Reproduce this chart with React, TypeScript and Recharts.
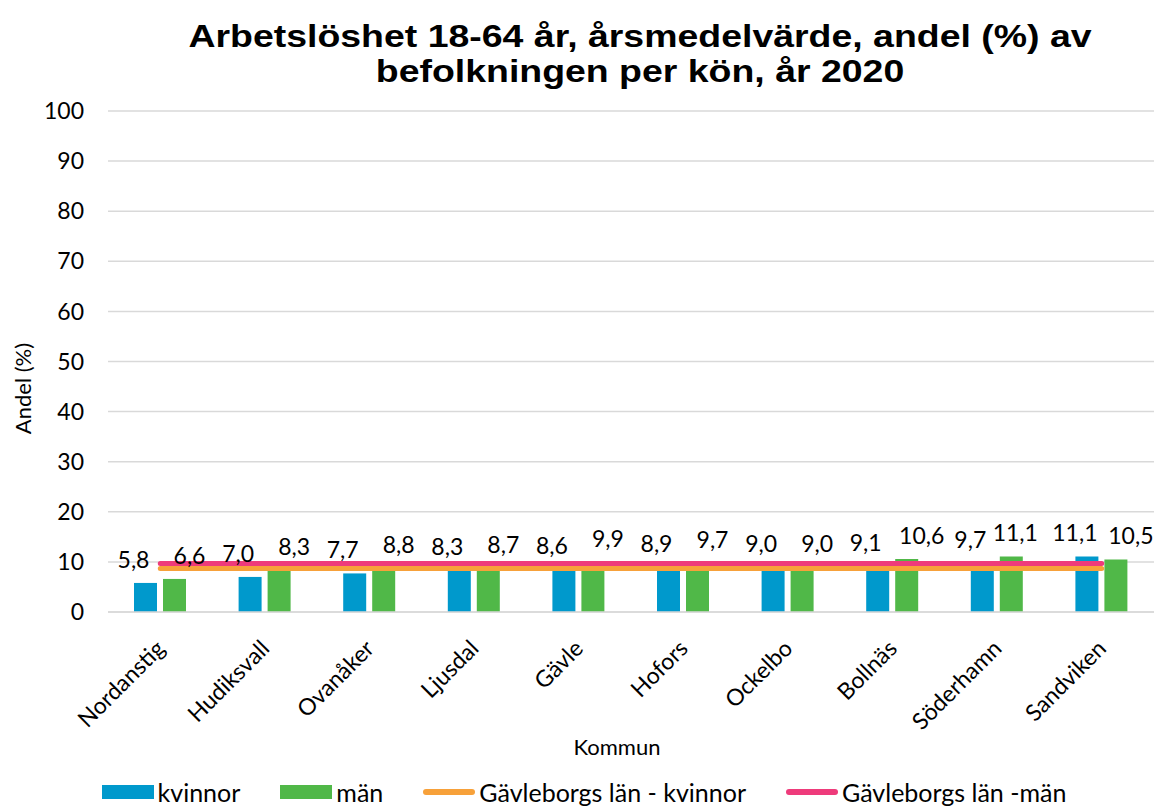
import React from 'react';
import { ComposedChart, Bar, Line, XAxis, YAxis, CartesianGrid, LabelList, Label } from 'recharts';

const categories = ['Nordanstig', 'Hudiksvall', 'Ovanåker', 'Ljusdal', 'Gävle', 'Hofors', 'Ockelbo', 'Bollnäs', 'Söderhamn', 'Sandviken'];
const kvinnor = [5.8, 7.0, 7.7, 8.3, 8.6, 8.9, 9.0, 9.1, 9.7, 11.1];
const man = [6.6, 8.3, 8.8, 8.7, 9.9, 9.7, 9.0, 10.6, 11.1, 10.5];
const lanKvinnor = [8.7, 8.7, 8.7, 8.7, 8.7, 8.7, 8.7, 8.7, 8.7, 8.7];
const lanMan = [9.7, 9.7, 9.7, 9.7, 9.7, 9.7, 9.7, 9.7, 9.7, 9.7];
const yTicks = [0, 10, 20, 30, 40, 50, 60, 70, 80, 90, 100];

const titleLines = ['Arbetslöshet 18-64 år, årsmedelvärde, andel (%) av', 'befolkningen per kön, år 2020'];

const COLORS = { kvinnor: '#0099CC', man: '#50B848', lanK: '#F7A13A', lanM: '#EE3B7B' };
const FONT = 'Lato, "Open Sans", sans-serif';

// label nudges to avoid overlapping labels (style, not data)
const manLabelNudge: Record<string, number> = { 'Söderhamn': -11 };

const data = categories.map((c, i) => ({
  name: c,
  kvinnor: kvinnor[i],
  man: man[i],
  lanKvinnor: lanKvinnor[i],
  lanMan: lanMan[i],
}));

const fmt = (v: number) => v.toFixed(1).replace('.', ',');

const makeLabel = (dx: number, nudge?: Record<string, number>) => (props: any) => {
  const { x, y, width, value, index } = props;
  const extra = nudge ? nudge[categories[index]] || 0 : 0;
  return (
    <text x={x + width / 2 + dx + extra} y={y - 15} textAnchor="middle" fontSize={23} fontFamily={FONT} fill="#000">
      {fmt(value)}
    </text>
  );
};

const XTick = (props: any) => {
  const { x, y, payload } = props;
  const ax = x + 6;
  const ay = y + 30;
  return (
    <text x={ax} y={ay} transform={`rotate(-45, ${ax}, ${ay})`} textAnchor="end" fontSize={23} fontFamily={FONT} fill="#000">
      {payload.value}
    </text>
  );
};

const legendItems = [
  { label: 'kvinnor', color: COLORS.kvinnor, type: 'rect' },
  { label: 'män', color: COLORS.man, type: 'rect' },
  { label: 'Gävleborgs län - kvinnor', color: COLORS.lanK, type: 'line' },
  { label: 'Gävleborgs län -män', color: COLORS.lanM, type: 'line' },
];

export default function App() {
  return (
    <div style={{ position: 'absolute', left: 0, top: 0, width: 1156, height: 807, background: '#fff', fontFamily: FONT, overflow: 'hidden' }}>
      <div style={{ position: 'absolute', left: 0, top: 19, width: 1280, textAlign: 'center', fontFamily: '"Liberation Sans", Arial, sans-serif', fontWeight: 'bold', fontSize: 32, lineHeight: '35px', color: '#000' }}>
        {titleLines.map((t) => (
          <div key={t} style={{ transform: 'scaleX(1.17)', transformOrigin: '640px 0' }}>{t}</div>
        ))}
      </div>
      <ComposedChart
        width={1156}
        height={807}
        data={data}
        margin={{ top: 111, right: 2, left: 0, bottom: 48 }}
        barSize={23}
        barGap={6}
      >
        <CartesianGrid vertical={false} stroke="#D9D9D9" strokeWidth={1.5} />
        <XAxis
          dataKey="name"
          height={147}
          axisLine={{ stroke: '#D9D9D9', strokeWidth: 1.5 }}
          tickLine={false}
          interval={0}
          tick={<XTick />}
        >
          <Label
            content={(p: any) => {
              const vb = p.viewBox;
              const cx = vb.x + vb.width / 2 - 14;
              const cy = vb.y + vb.height - 4;
              return (
                <text x={cx} y={cy} textAnchor="middle" fontSize={22} fontFamily={FONT} fill="#000">
                  Kommun
                </text>
              );
            }}
          />
        </XAxis>
        <YAxis
          width={108}
          domain={[0, 100]}
          ticks={yTicks}
          interval={0}
          axisLine={false}
          tickLine={false}
          tickSize={0}
          tickMargin={24}
          tick={{ fontSize: 23, fill: '#000', fontFamily: FONT }}
        >
          <Label
            content={(p: any) => {
              const vb = p.viewBox;
              const cx = vb.x + 22;
              const cy = vb.y + vb.height / 2 + 27;
              return (
                <text x={cx} y={cy} transform={`rotate(-90, ${cx}, ${cy})`} textAnchor="middle" dominantBaseline="central" fontSize={22} fontFamily={FONT} fill="#000">
                  Andel (%)
                </text>
              );
            }}
          />
        </YAxis>
        <Bar dataKey="kvinnor" fill={COLORS.kvinnor} isAnimationActive={false}>
          <LabelList dataKey="kvinnor" content={makeLabel(-12)} />
        </Bar>
        <Bar dataKey="man" fill={COLORS.man} isAnimationActive={false}>
          <LabelList dataKey="man" content={makeLabel(15, manLabelNudge)} />
        </Bar>
        <Line dataKey="lanKvinnor" stroke={COLORS.lanK} strokeWidth={5} strokeLinecap="round" dot={false} activeDot={false} isAnimationActive={false} />
        <Line dataKey="lanMan" stroke={COLORS.lanM} strokeWidth={5} strokeLinecap="round" dot={false} activeDot={false} isAnimationActive={false} />
      </ComposedChart>
      <div style={{ position: 'absolute', left: 0, top: 776, width: 1168, height: 32, display: 'flex', justifyContent: 'center', alignItems: 'center', gap: 40 }}>
        {legendItems.map((it) => (
          <div key={it.label} style={{ display: 'flex', alignItems: 'center', gap: 4, fontSize: 25, lineHeight: '28px', color: '#000', whiteSpace: 'nowrap' }}>
            {it.type === 'rect' ? (
              <div style={{ width: 52, height: 14, background: it.color }} />
            ) : (
              <div style={{ width: 52, height: 6, borderRadius: 3, background: it.color }} />
            )}
            <span>{it.label}</span>
          </div>
        ))}
      </div>
    </div>
  );
}
